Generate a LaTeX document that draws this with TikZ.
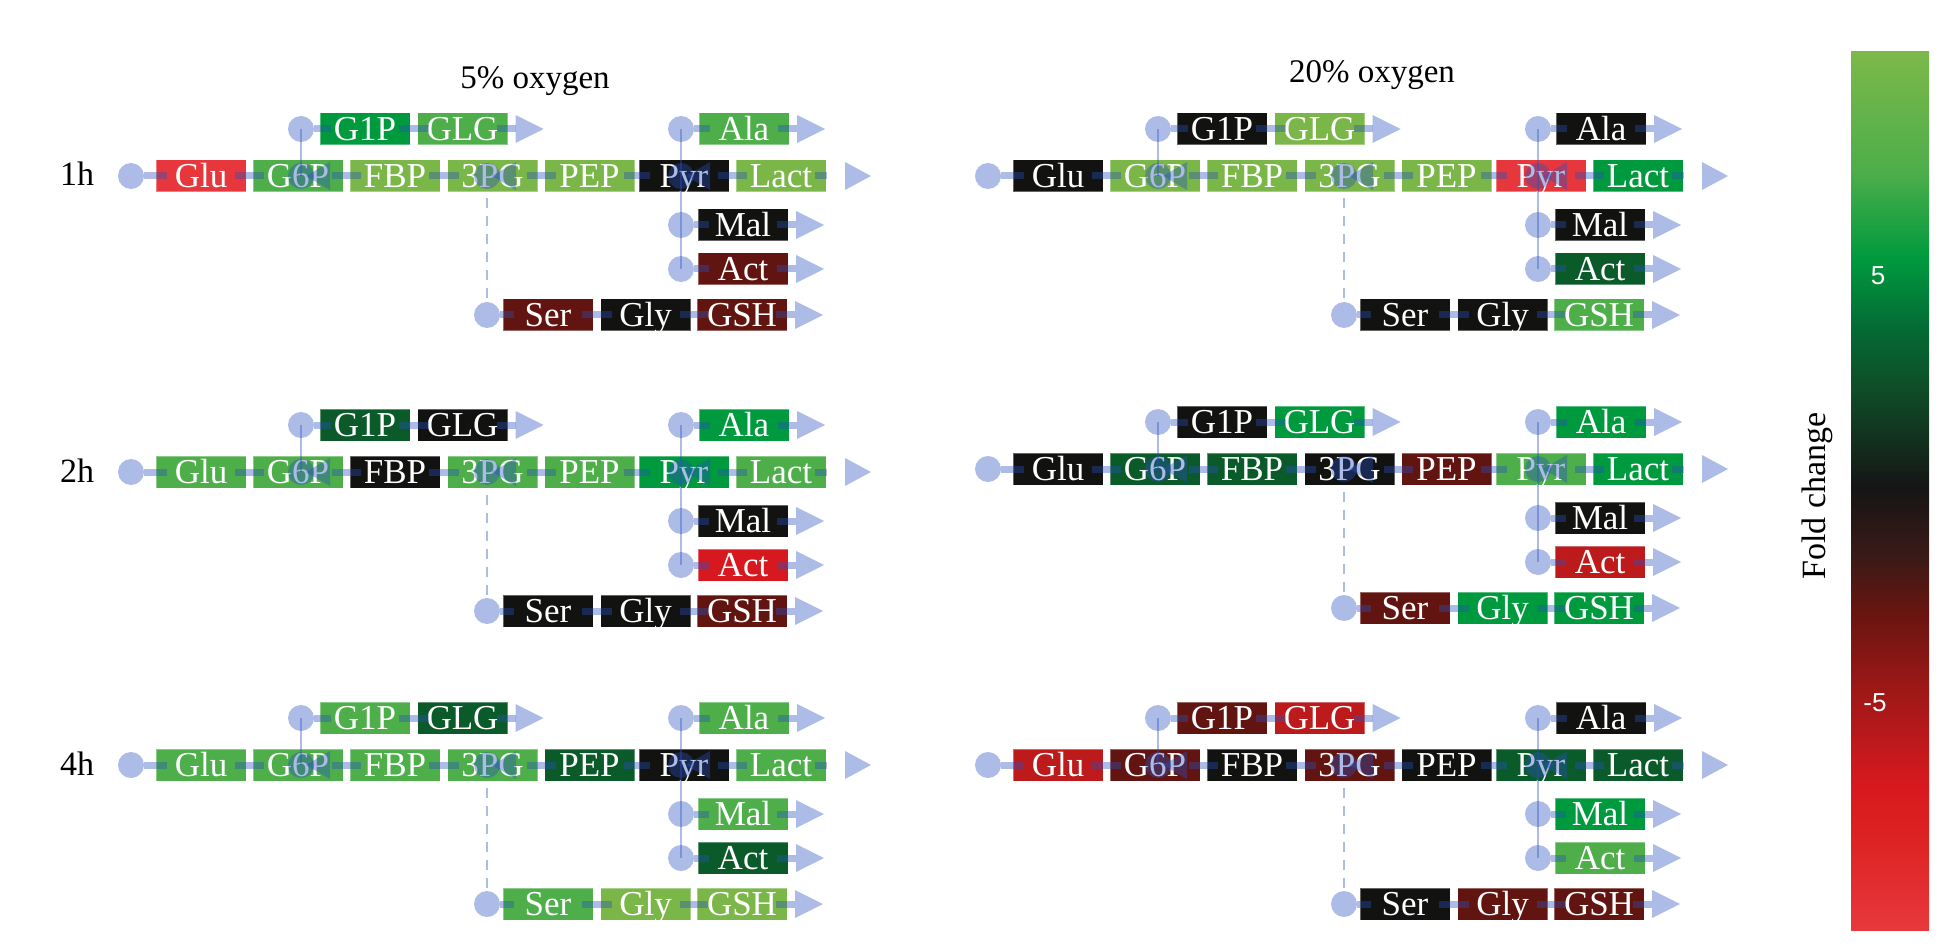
\documentclass[tikz,border=0pt]{standalone}
\usepackage{fontspec}
\setmainfont{Liberation Serif}
\setsansfont{Liberation Sans}

\definecolor{LG}{HTML}{7AB648}
\definecolor{MG}{HTML}{4DAE4A}
\definecolor{GR}{HTML}{009A3E}
\definecolor{DG}{HTML}{0B5A2A}
\definecolor{BK}{HTML}{121210}
\definecolor{DR}{HTML}{621510}
\definecolor{RD}{HTML}{D7191F}
\definecolor{RB}{HTML}{BD1A1C}
\definecolor{LR}{HTML}{E8373C}
\definecolor{fluxblue}{RGB}{40,80,190}

\definecolor{barA}{HTML}{E8383D}
\definecolor{barB}{HTML}{DC2121}
\definecolor{barC}{HTML}{D7191F}
\definecolor{barD}{HTML}{A31818}
\definecolor{barE}{HTML}{6A1510}
\definecolor{barF}{HTML}{3A1A17}
\definecolor{barG}{HTML}{151515}
\definecolor{barH}{HTML}{104A26}
\definecolor{barI}{HTML}{046B35}
\definecolor{barJ}{HTML}{009A3E}
\definecolor{barK}{HTML}{4DAE4A}
\definecolor{barL}{HTML}{7CB84A}

\pgfdeclareverticalshading{foldbar}{100bp}{color(0bp)=(barA); color(25bp)=(barA);
  color(30.6bp)=(barB); color(33.3bp)=(barC); color(38.2bp)=(barD); color(43bp)=(barE);
  color(46.3bp)=(barF); color(50.2bp)=(barG); color(55.5bp)=(barH); color(59.3bp)=(barI);
  color(63.3bp)=(barJ); color(68.2bp)=(barK); color(75bp)=(barL); color(100bp)=(barL)}

\tikzset{
  met/.style={rectangle, inner sep=0pt, minimum width=45pt, minimum height=16pt,
    text=white, text height=11.6pt, text depth=0pt, font=\fontsize{17.5}{18}\selectfont,
    draw=white, draw opacity=0.35, line width=0.5pt},
  flux/.style={color=fluxblue, opacity=0.38, line width=3.5pt},
  dot/.style={circle, fill=fluxblue, opacity=0.38, inner sep=0pt, minimum size=13pt},
}

% one pathway panel: #1 prefix of node names, #2 colours of the fifteen boxes
\newcommand{\pathway}[2]{%
  \foreach \m/\x/\y [count=\i from 0] in {Glu/201/176, G6P/298/176, FBP/395/176, 3PG/492.5/176,
      PEP/589.5/176, Pyr/684/176, Lact/781/176, G1P/365/129, GLG/462.5/129, Ala/744/129,
      Mal/743/225, Act/743/269, Ser/548/315, Gly/645.5/315, GSH/742/315}{
    \pgfmathsetmacro{\fc}{{#2}[\i]}
    \node[met, fill=\fc] (#1\m) at (\x,\y) {\m};
  }
  \foreach \v/\x/\y in {Glu/131/176, G1P/301/129, Ala/681/129, Mal/681/225, Act/681/269, Ser/487/315}
    \node[dot] (#1\v-in) at (\x,\y) {};
  \foreach \v/\x in {G6P/301, 3PG/487, Pyr/681}{
    \node[dot] (#1\v-j) at (\x,176) {};
    \fill[flux] ([shift={(29,-14)}]#1\v-j.center) -- ([shift={(5,0)}]#1\v-j.center)
      -- ([shift={(29,14)}]#1\v-j.center) -- cycle;
  }
  \foreach \v in {Glu, G1P, Ala, Mal, Act, Ser}
    \draw[flux] (#1\v-in) -- ([xshift=-17pt]#1\v.center);
  \foreach \u/\v in {Glu/G6P, G6P/FBP, FBP/3PG, 3PG/PEP, PEP/Pyr, Pyr/Lact, G1P/GLG, Ser/Gly, Gly/GSH}
    \draw[flux] ([xshift=17pt]#1\u.center) -- ([xshift=-17pt]#1\v.center);
  % outflow arrows
  \foreach \u in {GLG, Ala, Mal, Act, GSH}{
    \draw[flux] ([xshift=17pt]#1\u.center) -- ([xshift=26.5pt]#1\u.center);
    \fill[flux] ([shift={(53,-14)}]#1\u.center) -- ([xshift=40.5pt]#1\u.center)
      -- ([shift={(53,14)}]#1\u.center) -- cycle;
  }
  \draw[flux] ([xshift=17pt]#1Lact.center) -- (#1Lact.east);
  \fill[flux] ([shift={(64,-14)}]#1Lact.center) -- ([xshift=45pt]#1Lact.center)
    -- ([shift={(64,14)}]#1Lact.center) -- cycle;
  % branches
  \draw[flux, line width=1pt] (#1G1P-in.center) -- (#1G6P-j.center);
  \draw[flux, line width=1pt] (#1Ala-in.center) -- (#1Act-in.center);
  \draw[flux, line width=1pt, dash pattern=on 5pt off 4pt, shorten <=3pt]
    (#1Ser-in |- #13PG.south) -- (#1Ser-in.north);
}

\begin{document}
\begin{tikzpicture}[x=0.5pt, y=-0.5pt]
  \useasboundingbox (0,0) rectangle (1958,946);

  \node[anchor=base, font=\fontsize{16.5}{18}\selectfont] (t5) at (535,89) {5\% oxygen};
  \node[anchor=base, font=\fontsize{16.5}{18}\selectfont] (t20) at (1372,83) {20\% oxygen};
  \node[anchor=base, font=\fontsize{17}{18}\selectfont] (h1) at (77,186) {1h};
  \node[anchor=base, font=\fontsize{17}{18}\selectfont] (h2) at (77,482) {2h};
  \node[anchor=base, font=\fontsize{17}{18}\selectfont] (h4) at (77,775) {4h};

  % 5% oxygen
  \begin{scope}
    \pathway{a}{"LR","MG","LG","LG","LG","BK","LG","GR","MG","MG","BK","DR","DR","BK","DR"}
  \end{scope}
  \begin{scope}[shift={(0,296)}]
    \pathway{b}{"MG","MG","BK","MG","MG","GR","MG","DG","BK","GR","BK","RD","BK","BK","DR"}
  \end{scope}
  \begin{scope}[shift={(0,589)}]
    \pathway{c}{"MG","MG","MG","MG","DG","BK","MG","MG","DG","MG","MG","DG","MG","LG","LG"}
  \end{scope}

  % 20% oxygen
  \begin{scope}[shift={(857,0)}]
    \pathway{d}{"BK","LG","LG","LG","LG","LR","GR","BK","LG","BK","BK","DG","BK","BK","MG"}
  \end{scope}
  \begin{scope}[shift={(857,293)}]
    \pathway{e}{"BK","DG","DG","BK","DR","MG","GR","BK","GR","GR","BK","RB","DR","GR","GR"}
  \end{scope}
  \begin{scope}[shift={(857,589)}]
    \pathway{f}{"RB","DR","BK","DR","BK","DG","DG","DR","RB","BK","GR","MG","BK","DR","DR"}
  \end{scope}

  % colour bar
  \shade[shading=foldbar] (1851,52) rectangle (1929,930);
  \node[text=white, font=\sffamily\fontsize{13}{14}\selectfont] (p5) at (1878,276) {5};
  \node[text=white, font=\sffamily\fontsize{13}{14}\selectfont] (m5) at (1875,703) {-5};
  \node[rotate=90, font=\fontsize{17}{18}\selectfont] (fc) at (1817,496) {Fold change};
\end{tikzpicture}
\end{document}
